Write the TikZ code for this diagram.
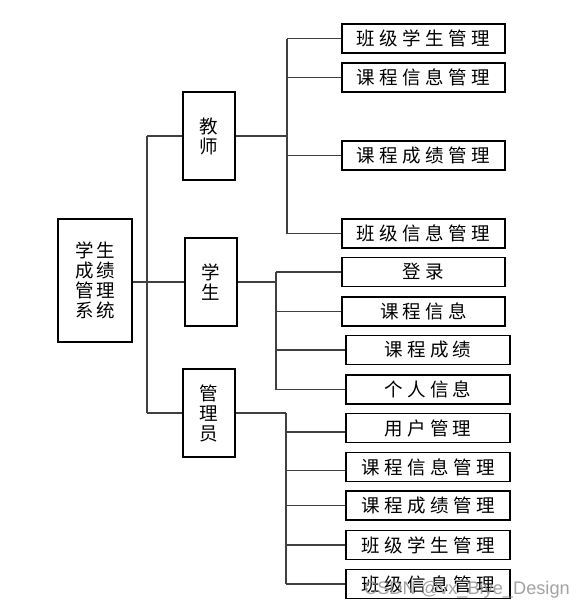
\documentclass[tikz,border=0pt]{standalone}
\usepackage{fontspec}
\usetikzlibrary{calc}
\setmainfont{Noto Sans CJK SC}
\newfontfamily\wmfont{Liberation Sans}
\makeatletter
\newcommand\lsp[2]{\def\lsp@f{1}\@tfor\lsp@c:=#2\do{\ifnum\lsp@f=1\relax\def\lsp@f{0}\else\kern#1\relax\fi\lsp@c}}
\makeatother
\tikzset{
  box/.style={draw=black, line width=1.1pt, inner sep=0pt, align=center,
              font=\fontsize{18.5}{20}\selectfont},
  leaf/.style={box, minimum width=163pt, minimum height=29pt},
  role/.style={box, minimum width=52pt, minimum height=88pt},
  conn/.style={draw=black!75, line width=1.1pt},
}
\begin{document}
\begin{tikzpicture}[x=1pt,y=-1pt]
\useasboundingbox (0,0) rectangle (584,608);
\fill[white] (0,0) rectangle (584,608);

% root
\node[box, minimum width=74pt, minimum height=123pt] (root) at (95,280.5)
  {\lsp{2.9pt}{学生}\\\lsp{2.9pt}{成绩}\\\lsp{2.9pt}{管理}\\\lsp{2.9pt}{系统}};

% roles
\node[role] (t) at (209,136) {教\\师};
\node[role] (s) at (211,282) {学\\生};
\node[role] (a) at (209,413) {管\\理\\员};

% teacher leaves
\node[leaf] (t1) at (423.5,38.5)  {\lsp{4.6pt}{班级学生管理}};
\node[leaf] (t2) at (423.5,77.5)  {\lsp{4.6pt}{课程信息管理}};
\node[leaf] (t3) at (423.5,155.5) {\lsp{4.6pt}{课程成绩管理}};
\node[leaf] (t4) at (423.5,233.5) {\lsp{4.6pt}{班级信息管理}};

% student leaves
\node[leaf] (s1) at (423.5,272)   {\lsp{4.2pt}{登录}};
\node[leaf] (s2) at (423.5,311.5) {\lsp{4.2pt}{课程信息}};
\node[leaf, minimum width=164pt] (s3) at (428,350)   {\lsp{4.2pt}{课程成绩}};
\node[leaf, minimum width=164pt] (s4) at (428,389.5) {\lsp{4.2pt}{个人信息}};

% admin leaves
\node[leaf, minimum width=164pt] (a1) at (428,428)   {\lsp{4.2pt}{用户管理}};
\node[leaf, minimum width=164pt] (a2) at (428,467)   {\lsp{4.6pt}{课程信息管理}};
\node[leaf, minimum width=164pt] (a3) at (428,505.5) {\lsp{4.6pt}{课程成绩管理}};
\node[leaf, minimum width=164pt] (a4) at (428,545)   {\lsp{4.6pt}{班级学生管理}};
\node[leaf, minimum width=164pt] (a5) at (428,584)   {\lsp{4.6pt}{班级信息管理}};

% bus coordinates
\coordinate (rb) at (147,0);
\coordinate (tb) at (287,0);
\coordinate (sb) at (276,0);
\coordinate (ab) at (286,0);

% root connections
\draw[conn] (root.east |- s.west) -- (s.west);
\draw[conn] (rb |- t.west) -- (rb |- a.west);
\draw[conn] (rb |- t.west) -- (t.west);
\draw[conn] (rb |- a.west) -- (a.west);

% teacher
\draw[conn] (t.east) -- (tb |- t.east);
\draw[conn] (tb |- t1.west) -- (tb |- t4.west);
\foreach \n in {t1,t2,t3,t4} \draw[conn] (tb |- \n.west) -- (\n.west);

% student
\draw[conn] (s.east) -- (sb |- s.east);
\draw[conn] (sb |- s1.west) -- (sb |- s4.west);
\foreach \n in {s1,s2,s3,s4} \draw[conn] (sb |- \n.west) -- (\n.west);

% admin
\draw[conn] (a.east) -- (ab |- a.east);
\draw[conn] (ab |- a.east) -- (ab |- a5.west);
\draw[conn] ($(ab |- a1.west)+(0,4)$) -- ($(a1.west)+(0,4)$);
\draw[conn] ($(ab |- a2.west)+(0,3.5)$) -- ($(a2.west)+(0,3.5)$);
\foreach \n in {a3,a4,a5} \draw[conn] (ab |- \n.west) -- (\n.west);

% watermark
\node[text=black!45, opacity=0.8, font=\wmfont\fontsize{18.2}{20}\selectfont, anchor=base west, inner sep=0pt] (wm) at (364,594) {CSDN @vx\_Biye\_Design};
\end{tikzpicture}
\end{document}
